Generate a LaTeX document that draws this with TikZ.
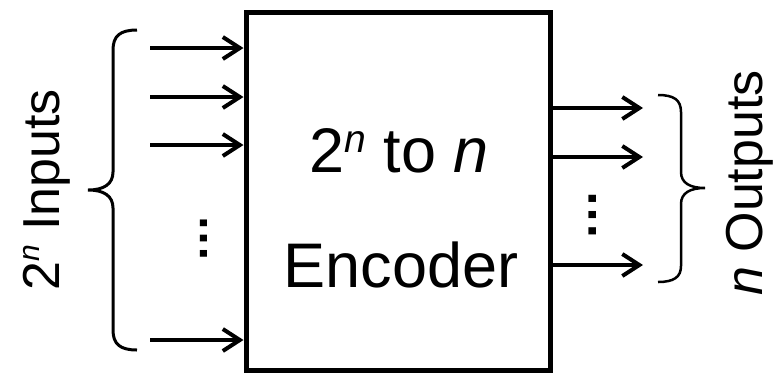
\documentclass[tikz,border=0pt]{standalone}
\usepackage{fontspec}
\setmainfont{Liberation Sans}
\usetikzlibrary{arrows.meta}
\newcommand{\supsc}[2]{\raisebox{#2pt}{\fontsize{#1}{#1}\selectfont\itshape n}}
\begin{document}
\begin{tikzpicture}[x=1pt,y=-1pt,
  wire/.style={line width=4pt,-{Straight Barb[length=17pt,width=22pt,line width=4pt]}},
  bracepath/.style={line width=3pt},
  big/.style={font=\fontsize{63}{70}\selectfont,inner sep=0pt},
  side/.style={font=\fontsize{52}{60}\selectfont,inner sep=0pt,rotate=90,anchor=base},
  dotsnode/.style={inner sep=0pt,rotate=90,anchor=base}]
\useasboundingbox (0,0) rectangle (773,373);
\node[draw,line width=5pt,minimum width=304pt,minimum height=358pt,inner sep=0pt] (enc) at (398,191) {};
\node[big,anchor=base] (t1) at (399,172) {2\supsc{39}{20} to \textit{n}};
\node[big,anchor=base] (t2) at (401,287) {Encoder};
% inputs
\coordinate (in1) at (150,48);
\coordinate (in2) at (150,97);
\coordinate (in3) at (150,145);
\coordinate (in4) at (150,340);
\foreach \i in {1,2,3,4} \draw[wire] (in\i) -- (in\i -| enc.west);
% outputs
\coordinate (out1) at (643,108);
\coordinate (out2) at (643,157);
\coordinate (out3) at (643,265);
\foreach \i in {1,2,3} \draw[wire] (out\i -| enc.east) -- (out\i);
% dots
\node[dotsnode,font=\fontsize{48}{50}\selectfont\bfseries] (ldots) at (207,238) {…};
\node[dotsnode,font=\fontsize{51}{54}\selectfont\bfseries] (rdots) at (596,215) {…};
% left brace
\draw[bracepath] (137,30) .. controls (120,30) and (113,36) .. (113,50) -- (113,172)
  .. controls (113,184) and (104,190) .. (88,190)
  .. controls (104,190) and (113,196) .. (113,208) -- (113,330)
  .. controls (113,344) and (120,350) .. (137,350);
% right brace
\draw[line width=2.5pt] (658,95) .. controls (674,95) and (681,100) .. (681,112) -- (681,172)
  .. controls (681,183) and (690,188) .. (705,188)
  .. controls (690,188) and (681,193) .. (681,204) -- (681,266)
  .. controls (681,277) and (674,282) .. (658,282);
% labels
\node[side] (lin) at (59,190) {2\supsc{30}{20} Inputs};
\node[side] (lout) at (762,183) {\textit{n} Outputs};
\end{tikzpicture}
\end{document}
